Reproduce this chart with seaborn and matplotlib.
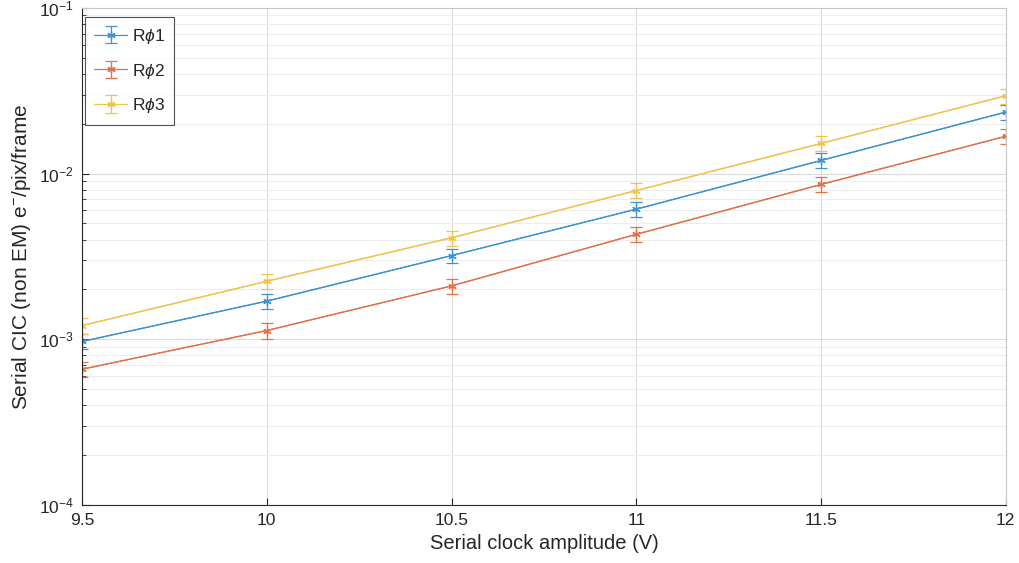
import numpy as np
import pandas as pd
import matplotlib
matplotlib.use("Agg")
import matplotlib.pyplot as plt
import seaborn as sns
from matplotlib.ticker import LogLocator, LogFormatterSciNotation, NullFormatter

# ---- data ----
voltage = [9.5, 10.0, 10.5, 11.0, 11.5, 12.0]
series_names = [r"R$\phi$1", r"R$\phi$2", r"R$\phi$3"]
cic_r1 = [9.7e-4, 1.70e-3, 3.20e-3, 6.10e-3, 1.20e-2, 2.35e-2]
cic_r2 = [6.6e-4, 1.13e-3, 2.10e-3, 4.30e-3, 8.60e-3, 1.68e-2]
cic_r3 = [1.21e-3, 2.24e-3, 4.10e-3, 7.90e-3, 1.52e-2, 2.95e-2]
err_r1 = [1.0e-4, 1.8e-4, 3.3e-4, 6.5e-4, 1.25e-3, 2.4e-3]
err_r2 = [7.0e-5, 1.2e-4, 2.2e-4, 4.5e-4, 9.0e-4, 1.8e-3]
err_r3 = [1.3e-4, 2.3e-4, 4.3e-4, 8.2e-4, 1.6e-3, 3.1e-3]
x_ticks = [9.5, 10, 10.5, 11, 11.5, 12]
x_tick_labels = ["9.5", "10", "10.5", "11", "11.5", "12"]

colors = ["#3d92d0", "#e0714a", "#f0c24f"]

sns.set_style("white")
plt.rcParams["font.family"] = ["Liberation Sans", "DejaVu Sans"]
plt.rcParams["mathtext.fontset"] = "custom"
plt.rcParams["mathtext.rm"] = "Liberation Sans"
plt.rcParams["mathtext.it"] = "Liberation Sans:italic"

fig = plt.figure(figsize=(10.19, 5.63), dpi=100)
ax = fig.add_axes([0.0805, 0.103, 0.9065, 0.883])

df = pd.DataFrame({
    "voltage": voltage * 3,
    "cic": cic_r1 + cic_r2 + cic_r3,
    "series": [series_names[0]] * 6 + [series_names[1]] * 6 + [series_names[2]] * 6,
})

sns.lineplot(data=df, x="voltage", y="cic", hue="series", palette=colors,
             linewidth=0.9, legend=False, ax=ax, errorbar=None)

handles = []
for vals, errs, c, name in zip([cic_r1, cic_r2, cic_r3], [err_r1, err_r2, err_r3], colors, series_names):
    h = ax.errorbar(voltage, vals, yerr=errs, color=c, linestyle="-", linewidth=0.9,
                    marker=(6, 2, 0), markersize=6, markeredgewidth=0.9,
                    ecolor=c, elinewidth=0.9, capsize=4, capthick=0.9, label=name)
    handles.append(h)

ax.set_yscale("log")
ax.set_xlim(9.5, 12)
ax.set_ylim(1e-4, 1e-1)
ax.set_xticks(x_ticks)
ax.set_xticklabels(x_tick_labels)
ax.yaxis.set_major_locator(LogLocator(base=10, numticks=10))
ax.yaxis.set_major_formatter(LogFormatterSciNotation())
ax.yaxis.set_minor_locator(LogLocator(base=10, subs=np.arange(2, 10), numticks=20))
ax.yaxis.set_minor_formatter(NullFormatter())

ax.grid(True, which="major", color="#dcdcdc", linewidth=0.8)
ax.grid(True, which="minor", axis="y", color="#ededed", linewidth=0.8)
ax.set_axisbelow(True)

for s in ax.spines.values():
    s.set_color("#262626")
    s.set_linewidth(0.8)
ax.spines["top"].set_color("#c8c8c8")
ax.spines["right"].set_color("#c8c8c8")

ax.tick_params(axis="both", which="both", direction="in", colors="#262626",
               labelsize=12.5, top=False, right=False, left=True, bottom=True)
ax.tick_params(axis="both", which="major", length=5, pad=6)
ax.tick_params(axis="y", which="minor", length=3)

ax.set_xlabel("Serial clock amplitude (V)", fontsize=14.5, color="#262626", labelpad=4)
ax.set_ylabel(r"Serial CIC (non EM) e$^{-}$/pix/frame", fontsize=15, color="#262626", labelpad=4)

leg = ax.legend(handles=handles, labels=series_names, loc="upper left",
                bbox_to_anchor=(0.003, 0.981), borderaxespad=0.0,
                fontsize=12.5, frameon=True, fancybox=False, handlelength=1.9,
                labelspacing=0.9, handletextpad=0.25, borderpad=0.55)
leg.get_frame().set_edgecolor("#262626")
leg.get_frame().set_linewidth(0.8)

fig.savefig("out.png", dpi=100)
